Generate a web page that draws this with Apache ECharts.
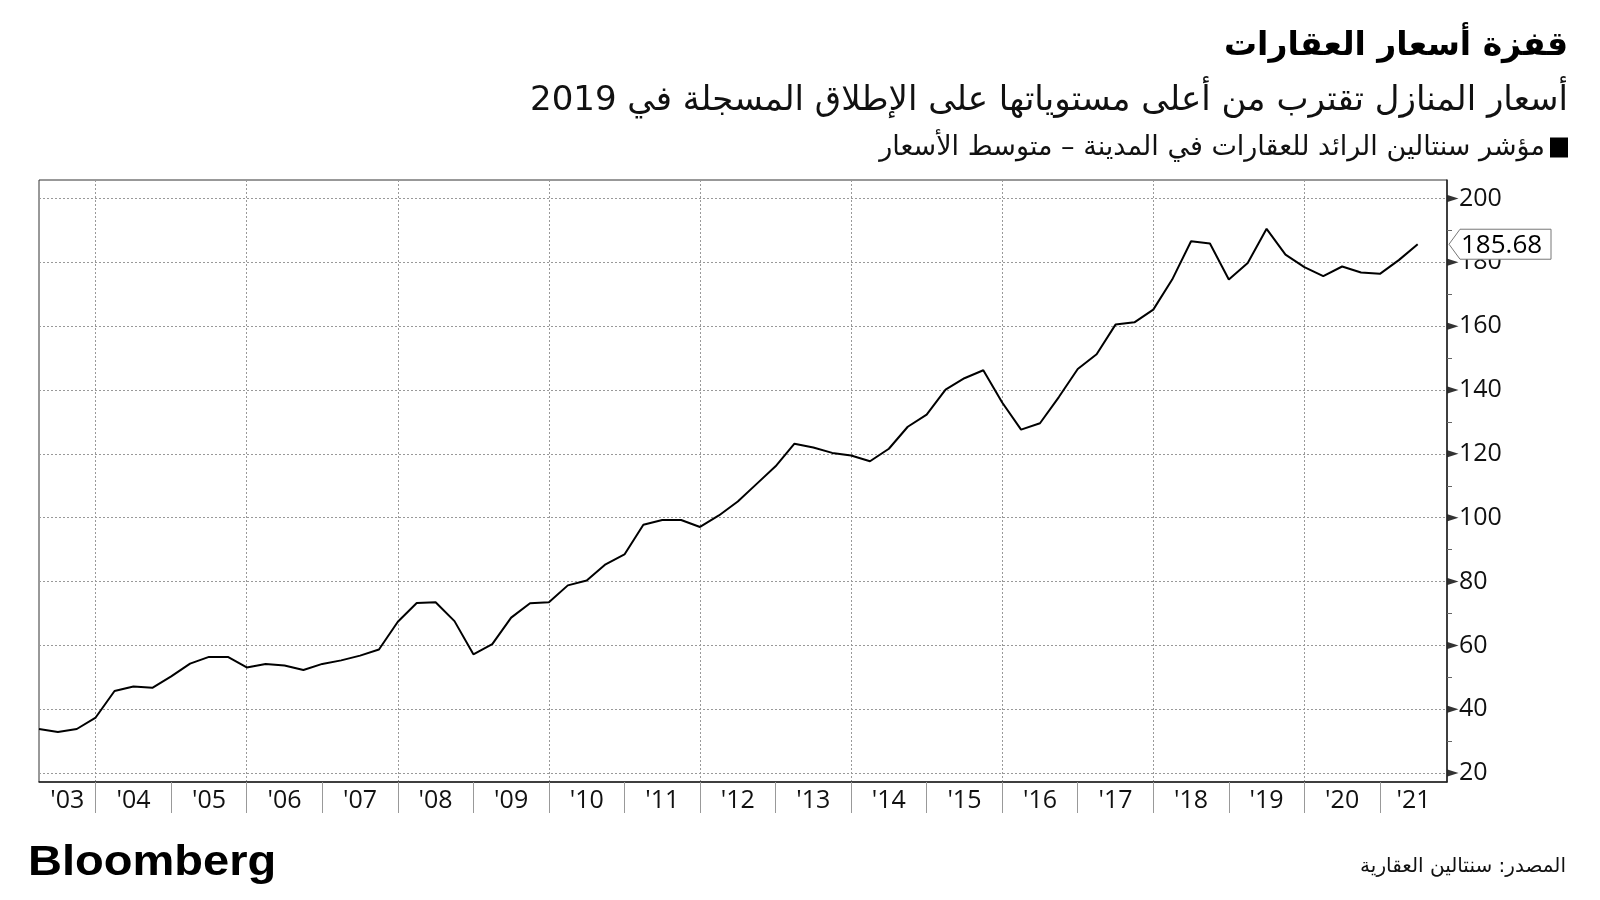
<!DOCTYPE html>
<html>
<head>
<meta charset="utf-8">
<script src="https://cdn.jsdelivr.net/npm/echarts@6/dist/echarts.min.js"></script>
<style>html,body{margin:0;padding:0;background:#fff}#c{width:1600px;height:900px}</style>
</head>
<body>
<div id="c"></div>
<script>
// ---- data ----
const quarters = [
  '2003Q1','2003Q2','2003Q3','2003Q4','2004Q1','2004Q2','2004Q3','2004Q4',
  '2005Q1','2005Q2','2005Q3','2005Q4','2006Q1','2006Q2','2006Q3','2006Q4',
  '2007Q1','2007Q2','2007Q3','2007Q4','2008Q1','2008Q2','2008Q3','2008Q4',
  '2009Q1','2009Q2','2009Q3','2009Q4','2010Q1','2010Q2','2010Q3','2010Q4',
  '2011Q1','2011Q2','2011Q3','2011Q4','2012Q1','2012Q2','2012Q3','2012Q4',
  '2013Q1','2013Q2','2013Q3','2013Q4','2014Q1','2014Q2','2014Q3','2014Q4',
  '2015Q1','2015Q2','2015Q3','2015Q4','2016Q1','2016Q2','2016Q3','2016Q4',
  '2017Q1','2017Q2','2017Q3','2017Q4','2018Q1','2018Q2','2018Q3','2018Q4',
  '2019Q1','2019Q2','2019Q3','2019Q4','2020Q1','2020Q2','2020Q3','2020Q4',
  '2021Q1','2021Q2'
];
const values = [
  33.8, 32.9, 33.8, 37.4, 45.7, 47.1, 46.7, 50.3,
  54.3, 56.4, 56.4, 53.1, 54.2, 53.7, 52.3, 54.2,
  55.3, 56.8, 58.7, 67.4, 73.3, 73.5, 67.6, 57.2,
  60.4, 68.7, 73.2, 73.5, 78.8, 80.3, 85.4, 88.5,
  97.8, 99.3, 99.3, 97.1, 100.7, 105.1, 110.6, 116.1,
  123.2, 122.0, 120.3, 119.5, 117.7, 121.6, 128.5, 132.3,
  140.1, 143.7, 146.2, 136.1, 127.6, 129.6, 137.8, 146.6,
  151.2, 160.5, 161.2, 165.2, 174.6, 186.6, 185.9, 174.6,
  179.8, 190.5, 182.4, 178.5, 175.7, 178.7, 176.8, 176.4,
  180.7, 185.68
];
const yMajorTicks = [20, 40, 60, 80, 100, 120, 140, 160, 180, 200];
const yMinorTicks = [30, 50, 70, 90, 110, 130, 150, 170, 190];
const yearTicks = [2004,2005,2006,2007,2008,2009,2010,2011,2012,2013,2014,2015,2016,2017,2018,2019,2020,2021];
const gridYears = [2004, 2006, 2008, 2010, 2012, 2014, 2016, 2018, 2020];
const yearLabelYears = [2003,2004,2005,2006,2007,2008,2009,2010,2011,2012,2013,2014,2015,2016,2017,2018,2019,2020,2021];

const titleText = 'قفزة أسعار العقارات';
const subtitleText = 'أسعار المنازل تقترب من أعلى مستوياتها على الإطلاق المسجلة في 2019';
const seriesName = 'مؤشر سنتالين الرائد للعقارات في المدينة – متوسط الأسعار';
const sourceText = 'المصدر: سنتالين العقارية';

// ---- derived ----
const qx = q => parseInt(q.slice(0, 4), 10) + parseInt(q.slice(5), 10) * 0.25;
const lineData = quarters.map((q, i) => [qx(q), values[i]]);
const xMin = lineData[0][0];
const xMax = 2021.888;
const yMin = 17.2, yMax = 205.8;
const labelPos = yearLabelYears.map(y => (Math.max(y, xMin) + Math.min(y + 1, xMax)) / 2);
const lastPoint = lineData[lineData.length - 1];

const numFont = '"Open Sans", "DejaVu Sans", sans-serif';
const arFont = '"DejaVu Sans", "Noto Sans", sans-serif';

const chart = echarts.init(document.getElementById('c'), null, {renderer: 'canvas'});
chart.setOption({
  animation: false,
  backgroundColor: '#fff',
  title: [
    {text: titleText, right: 32, top: 30, padding: 0,
     textStyle: {fontFamily: arFont, fontWeight: 'bold', fontSize: 33, color: '#000'}},
    {text: subtitleText, right: 32, top: 84, padding: 0,
     textStyle: {fontFamily: arFont, fontWeight: 'normal', fontSize: 34, color: '#111'}},
    {text: sourceText, right: 34, top: 857, padding: 0,
     textStyle: {fontFamily: arFont, fontWeight: 'normal', fontSize: 20, color: '#111'}}
  ],
  legend: {
    data: [seriesName], right: 32, top: 134, align: 'right', padding: 0,
    icon: 'rect', itemWidth: 18, itemHeight: 20, itemGap: 8,
    selectedMode: false,
    textStyle: {fontFamily: arFont, fontSize: 27, color: '#111'}
  },
  graphic: [
    {type: 'text', left: 28, top: 842, scaleX: 1.12,
     style: {text: 'Bloomberg', font: '900 42px "Liberation Sans", Arial, sans-serif', fill: '#000'}}
  ],
  grid: {left: 39, right: 153, top: 180, bottom: 118, show: true,
         borderColor: '#333', borderWidth: 1, backgroundColor: 'transparent'},
  xAxis: [
    {type: 'value', min: xMin, max: xMax, position: 'bottom',
     axisLine: {show: true, onZero: false, lineStyle: {color: '#222', width: 1.5}},
     axisTick: {show: true, customValues: yearTicks, length: 31, lineStyle: {color: '#999', width: 1}},
     axisLabel: {show: true, customValues: labelPos, margin: 6,
                 formatter: v => "'" + String(Math.floor(v + 1e-6) % 100).padStart(2, '0'),
                 fontFamily: numFont, fontSize: 25, color: '#111'},
     splitLine: {show: false}},
    {type: 'value', min: xMin, max: xMax, position: 'bottom',
     axisLine: {show: false}, axisLabel: {show: false},
     axisTick: {show: false, customValues: gridYears},
     splitLine: {show: true, lineStyle: {color: '#999', type: [2, 2], width: 1}}}
  ],
  yAxis: [
    {type: 'value', min: yMin, max: yMax, position: 'right',
     axisLine: {show: true, onZero: false, lineStyle: {color: '#222', width: 1.5}},
     axisTick: {show: true, customValues: yMinorTicks, length: 5, lineStyle: {color: '#666', width: 1}},
     axisLabel: {show: false}, splitLine: {show: false}},
    {type: 'value', min: yMin, max: yMax, position: 'right',
     axisLine: {show: false},
     axisTick: {show: false, customValues: yMajorTicks},
     axisLabel: {show: true, customValues: yMajorTicks, margin: 12,
                 fontFamily: numFont, fontSize: 25, color: '#111'},
     splitLine: {show: true, lineStyle: {color: '#999', type: [2, 2], width: 1}}}
  ],
  series: [
    {name: seriesName, type: 'line', data: lineData, xAxisIndex: 0, yAxisIndex: 0,
     showSymbol: false, symbol: 'none', color: '#000',
     lineStyle: {color: '#000', width: 2}, z: 5},
    {name: 'ticks', type: 'scatter', xAxisIndex: 0, yAxisIndex: 0, clip: false, silent: true,
     data: yMajorTicks.map(v => [xMax, v]),
     symbol: 'triangle', symbolSize: [7, 11], symbolRotate: -90, symbolOffset: [6, 0],
     itemStyle: {color: '#000'}, z: 6},
    {name: 'last', type: 'custom', xAxisIndex: 0, yAxisIndex: 0, clip: false, silent: true,
     data: [lastPoint], z: 10,
     renderItem: (params, api) => {
       const p = api.coord([xMax, api.value(1)]);
       const x = p[0] + 2, y = p[1];
       return {type: 'group', children: [
         {type: 'polygon', shape: {points: [[x, y], [x + 11, y - 15], [x + 102, y - 15], [x + 102, y + 15], [x + 11, y + 15]]},
          style: {fill: '#fff', stroke: '#777', lineWidth: 1}},
         {type: 'text', x: x + 12, y: y + 1,
          style: {text: api.value(1).toFixed(2), fill: '#000', fontFamily: numFont, fontSize: 26,
                  align: 'left', verticalAlign: 'middle'}}
       ]};
     }}
  ]
});
</script>
</body>
</html>
